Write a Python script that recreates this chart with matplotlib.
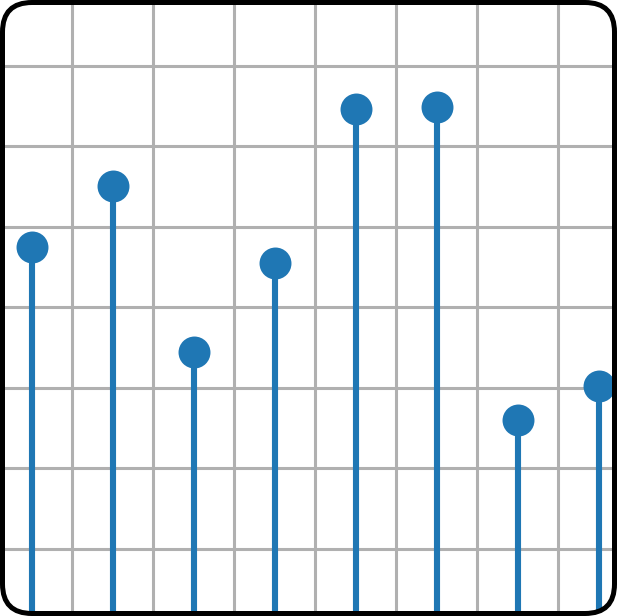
import numpy as np
import matplotlib
matplotlib.use("Agg")
import matplotlib.pyplot as plt
from matplotlib.patches import FancyBboxPatch, Polygon
from matplotlib.transforms import IdentityTransform

# data
x = [0.5, 1.5, 2.5, 3.5, 4.5, 5.5, 6.5, 7.5]
y = [4.75, 5.5, 3.45, 4.55, 6.46, 6.48, 2.6, 3.02]
xticks = [1, 2, 3, 4, 5, 6, 7]
yticks = [1, 2, 3, 4, 5, 6, 7]

W, H, DPI = 617, 616, 100
fig = plt.figure(figsize=(W / DPI, H / DPI), dpi=DPI)
ax = fig.add_axes([0, 0, 1, 1])

color = "#1f77b4"
markerline, stemlines, baseline = ax.stem(x, y, basefmt=" ")
plt.setp(stemlines, color=color, linewidth=4.4)
plt.setp(markerline, color=color, markersize=23, markeredgewidth=0)

ax.set_xlim(0.5 - 31.7 / 81.0, 0.5 + (W - 31.7) / 81.0)
ax.set_ylim((629.6 - 616) / 80.58, 629.6 / 80.58)
ax.set_xticks(xticks)
ax.set_yticks(yticks)
ax.grid(True, color="#b0b0b0", linewidth=2.2)
ax.set_axisbelow(True)
ax.tick_params(length=0, labelbottom=False, labelleft=False)
for s in ax.spines.values():
    s.set_visible(False)

# white mask outside rounded corners
r = 32.0
corners = [((0, 0), (r, r), np.pi, 1.5 * np.pi),
           ((W, 0), (W - r, r), 1.5 * np.pi, 2 * np.pi),
           ((W, H), (W - r, H - r), 0, 0.5 * np.pi),
           ((0, H), (r, H - r), 0.5 * np.pi, np.pi)]
for corner, c, a0, a1 in corners:
    t = np.linspace(a0, a1, 30)
    pts = [corner] + [(c[0] + r * np.cos(a), c[1] + r * np.sin(a)) for a in t]
    fig.patches.append(Polygon(pts, closed=True, facecolor="white", edgecolor="white",
                               linewidth=1, transform=IdentityTransform(), figure=fig))

lw_px = 5.0
border = FancyBboxPatch((lw_px / 2, lw_px / 2), W - lw_px, H - lw_px,
                        boxstyle="round,pad=0,rounding_size=%f" % (r - lw_px / 2),
                        facecolor="none", edgecolor="black",
                        linewidth=lw_px * 72 / DPI, transform=IdentityTransform(), figure=fig)
fig.patches.append(border)

fig.savefig("out.png", dpi=DPI)
